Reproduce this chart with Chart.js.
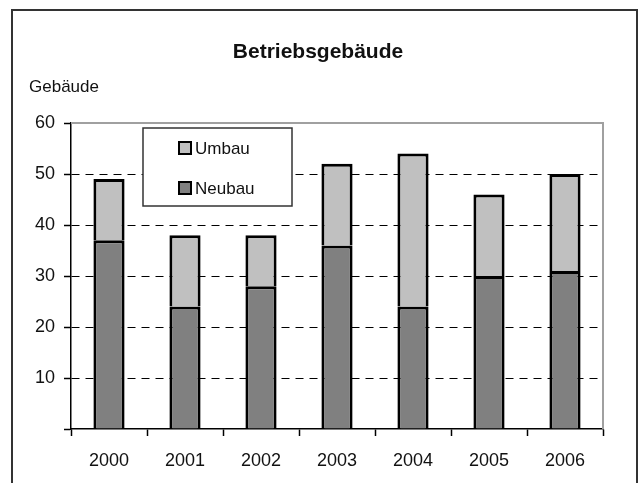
<!DOCTYPE html>
<html>
<head>
<meta charset="utf-8">
<script src="https://cdn.jsdelivr.net/npm/chart.js@4"></script>
<style>
  html, body { margin: 0; padding: 0; background: #fff; }
  #wrap { width: 640px; height: 483px; position: relative; }
</style>
</head>
<body>
<div id="wrap"><canvas id="chart" width="640" height="483"></canvas></div>
<script>
const years = ['2000', '2001', '2002', '2003', '2004', '2005', '2006'];
const neubau = [37, 24, 28, 36, 24, 30, 31];
const umbau = [12, 14, 10, 16, 30, 16, 19];
const yTicks = [10, 20, 30, 40, 50, 60];

const chartTitle = 'Betriebsgebäude';
const yTitle = 'Gebäude';
const FONT = '"Liberation Sans", Arial, sans-serif';

// frame, title, y label, plot border and legend box
const decor = {
  id: 'decor',
  beforeDraw(chart) {
    const ctx = chart.ctx;
    ctx.save();
    ctx.fillStyle = '#fff';
    ctx.fillRect(0, 0, chart.width, chart.height);
    ctx.restore();
  },
  afterDatasetsDraw(chart) {
    const ctx = chart.ctx;
    const a = chart.chartArea;
    ctx.save();
    // grey plot border top + right
    ctx.strokeStyle = '#a0a0a0';
    ctx.lineWidth = 2;
    ctx.beginPath();
    ctx.moveTo(a.left, a.top);
    ctx.lineTo(a.right, a.top);
    ctx.lineTo(a.right, a.bottom);
    ctx.stroke();

    // outer frame
    ctx.strokeStyle = '#333';
    ctx.lineWidth = 2;
    ctx.beginPath();
    ctx.moveTo(12, 490);
    ctx.lineTo(12, 10);
    ctx.lineTo(637, 10);
    ctx.lineTo(637, 490);
    ctx.stroke();

    // title
    ctx.fillStyle = '#111';
    ctx.textAlign = 'center';
    ctx.textBaseline = 'middle';
    ctx.font = 'bold 21px ' + FONT;
    ctx.fillText(chartTitle, 318, 52);

    ctx.textAlign = 'left';
    ctx.font = '17px ' + FONT;
    ctx.fillText(yTitle, 29, 87);

    // legend
    ctx.fillStyle = '#fff';
    ctx.fillRect(143, 128, 149, 78);
    ctx.strokeStyle = '#333';
    ctx.lineWidth = 1.5;
    ctx.strokeRect(143, 128, 149, 78);
    const items = chart.data.datasets.slice().reverse();
    items.forEach((ds, i) => {
      const cy = 148 + i * 40;
      ctx.fillStyle = ds.backgroundColor;
      ctx.fillRect(179, cy - 6, 12, 12);
      ctx.strokeStyle = '#000';
      ctx.lineWidth = 2;
      ctx.strokeRect(179, cy - 6, 12, 12);
      ctx.fillStyle = '#111';
      ctx.font = '17px ' + FONT;
      ctx.textBaseline = 'middle';
      ctx.fillText(ds.label, 195, cy + 1);
    });
    ctx.restore();
  }
};

new Chart(document.getElementById('chart'), {
  type: 'bar',
  data: {
    labels: years,
    datasets: [
      {
        label: 'Neubau',
        data: neubau,
        backgroundColor: '#808080',
        borderColor: '#000',
        borderWidth: 3,
        barPercentage: 0.41,
        categoryPercentage: 1
      },
      {
        label: 'Umbau',
        data: umbau,
        backgroundColor: '#c0c0c0',
        borderColor: '#000',
        borderWidth: 3,
        barPercentage: 0.41,
        categoryPercentage: 1
      }
    ]
  },
  options: {
    responsive: false,
    animation: false,
    layout: { padding: { top: 123, right: 37, bottom: 0, left: 0 } },
    plugins: {
      legend: { display: false },
      title: { display: false },
      tooltip: { enabled: false }
    },
    scales: {
      x: {
        stacked: true,
        afterFit: (s) => { s.height = 54; },
        border: { color: '#000', width: 1.5 },
        grid: {
          drawOnChartArea: false,
          drawTicks: true,
          tickLength: 7,
          tickColor: '#000',
          tickWidth: 1.5
        },
        ticks: {
          color: '#111',
          padding: 14,
          font: { family: FONT, size: 18 }
        }
      },
      y: {
        stacked: true,
        min: 0,
        max: 60,
        afterFit: (s) => { s.width = 71; },
        afterBuildTicks: (s) => {
          s.ticks = [0].concat(yTicks).map(v => ({ value: v }));
        },
        border: { color: '#000', width: 1.5, dash: [8, 6] },
        grid: {
          color: (c) => (c.tick.value === 0 || c.tick.value === 60) ? 'rgba(0,0,0,0)' : '#000',
          lineWidth: 1,
          tickBorderDash: [],
          tickColor: '#000',
          tickLength: 7,
          tickWidth: 1.5
        },
        ticks: {
          color: '#111',
          padding: 9,
          font: { family: FONT, size: 18 },
          callback: (v) => v === 0 ? '' : v
        }
      }
    }
  },
  plugins: [decor]
});
</script>
</body>
</html>
